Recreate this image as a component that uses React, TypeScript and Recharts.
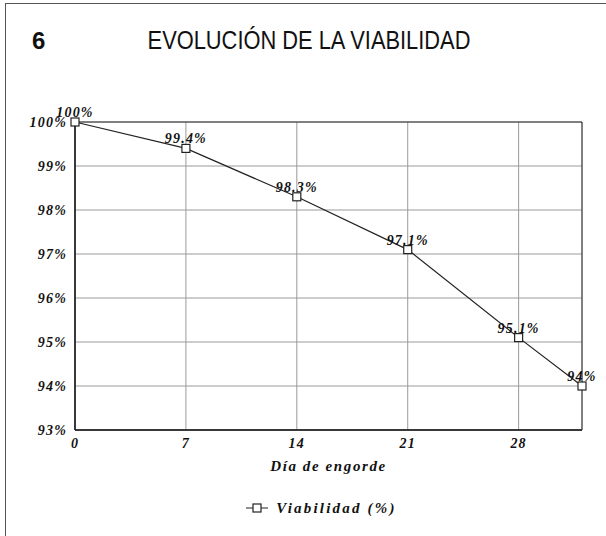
import React from 'react';
import {
  LineChart,
  Line,
  XAxis,
  YAxis,
  CartesianGrid,
  LabelList,
  Legend,
  ReferenceArea,
} from 'recharts';

const days = [0, 7, 14, 21, 28, 32];
const viabilidad = [100, 99.4, 98.3, 97.1, 95.1, 94];
const xTicks = [0, 7, 14, 21, 28];
const yTicks = [93, 94, 95, 96, 97, 98, 99, 100];
const seriesName = 'Viabilidad (%)';
const xTitle = 'Día de engorde';
const chartTitle = 'EVOLUCIÓN DE LA VIABILIDAD';
const chartNumber = '6';

const data = days.map((d, i) => ({ day: d, v: viabilidad[i] }));

const serif = '"Liberation Serif", "DejaVu Serif", serif';
const tickStyle = {
  fontFamily: serif,
  fontWeight: 'bold',
  fontStyle: 'italic',
  fontSize: 14,
  letterSpacing: 1.2,
  fill: '#111',
};

const SquareDot = (props: any) => {
  const { cx, cy } = props;
  if (cx == null || cy == null) return null;
  return (
    <rect x={cx - 4} y={cy - 4} width={8} height={8} fill="#fff" stroke="#222" strokeWidth={1.2} />
  );
};

const fmtPct = (v: any) => `${v}%`;

const LegendContent = () => (
  <div style={{ display: 'flex', justifyContent: 'center', alignItems: 'center', height: 20, paddingLeft: 36 }}>
    <svg width={24} height={12} style={{ marginRight: 7 }}>
      <line x1={1} y1={6} x2={23} y2={6} stroke="#222" strokeWidth={1} />
      <rect x={8} y={2} width={8} height={8} fill="#fff" stroke="#222" strokeWidth={1.2} />
    </svg>
    <span
      style={{
        fontFamily: serif,
        fontWeight: 'bold',
        fontStyle: 'italic',
        fontSize: 15,
        letterSpacing: 2.2,
        color: '#111',
      }}
    >
      {seriesName}
    </span>
  </div>
);

export default function App() {
  return (
    <div style={{ position: 'absolute', left: 0, top: 0, width: 606, height: 536, background: '#fff' }}>
      <div
        style={{
          position: 'absolute',
          left: 5,
          top: 3,
          width: 601,
          height: 533,
          borderLeft: '1.5px solid #555',
          borderTop: '1.5px solid #555',
        }}
      />
      <div
        style={{
          position: 'absolute',
          left: 32,
          top: 27,
          fontFamily: '"Liberation Sans", Arial, sans-serif',
          fontSize: 24,
          fontWeight: 'bold',
          color: '#111',
        }}
      >
        {chartNumber}
      </div>
      <div
        style={{
          position: 'absolute',
          left: 309,
          top: 25,
          transform: 'translateX(-50%) scaleX(0.84)',
          whiteSpace: 'nowrap',
          fontFamily: '"Liberation Sans Narrow", "Liberation Sans", Arial, sans-serif',
          fontSize: 26,
          color: '#111',
        }}
      >
        {chartTitle}
      </div>
      <LineChart
        width={606}
        height={536}
        data={data}
        margin={{ top: 122, right: 24, left: 15, bottom: 45 }}
        style={{ position: 'absolute', left: 0, top: 0 }}
      >
        <CartesianGrid stroke="#9a9a9a" strokeWidth={1} />
        <ReferenceArea x1={0} x2={32} y1={93} y2={100} fill="none" stroke="#333" strokeWidth={1} ifOverflow="visible" />
        <XAxis
          dataKey="day"
          type="number"
          domain={[0, 32]}
          ticks={xTicks}
          tickLine={false}
          axisLine={{ stroke: '#222', strokeWidth: 1.5 }}
          tick={tickStyle}
          height={41}
          label={{
            value: xTitle,
            position: 'insideBottom',
            offset: 0,
            style: { ...tickStyle, fontSize: 15, letterSpacing: 1.6 },
          }}
        />
        <YAxis
          type="number"
          domain={[93, 100]}
          ticks={yTicks}
          tickFormatter={fmtPct}
          tickLine={false}
          axisLine={{ stroke: '#222', strokeWidth: 1.5 }}
          tick={tickStyle}
          width={60}
          interval={0}
        />
        <Legend verticalAlign="bottom" content={<LegendContent />} wrapperStyle={{ top: 498, left: 0, width: 606 }} />
        <Line
          dataKey="v"
          name={seriesName}
          stroke="#222"
          strokeWidth={1.2}
          isAnimationActive={false}
          dot={<SquareDot />}
          activeDot={false}
        >
          <LabelList dataKey="v" position="top" offset={5} formatter={fmtPct} style={tickStyle} />
        </Line>
      </LineChart>
    </div>
  );
}
